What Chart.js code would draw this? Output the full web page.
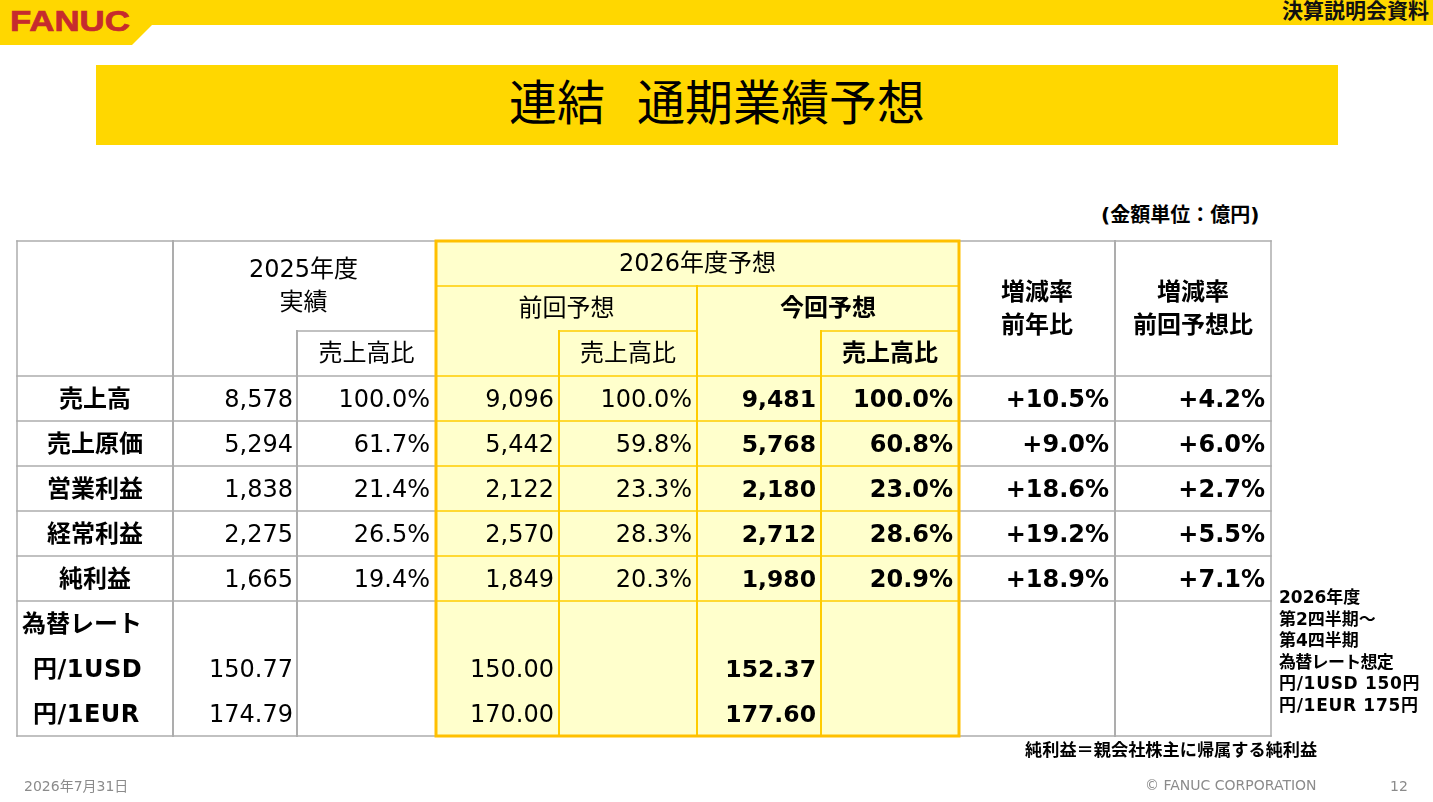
<!DOCTYPE html>
<html lang="ja"><head><meta charset="utf-8"><title>連結 通期業績予想</title>
<script src="https://cdn.jsdelivr.net/npm/chart.js@4/dist/chart.umd.min.js"></script>
<style>
html,body{margin:0;padding:0;background:#fff;width:1433px;height:802px;overflow:hidden}
body{position:relative;font-family:"DejaVu Sans","Noto Sans CJK JP",sans-serif;color:#000}
canvas{position:absolute;left:0;top:0}
.t{position:absolute;white-space:nowrap;line-height:1}
#band{position:absolute;left:0;top:0;width:1433px;height:45px;background:#FFD700;clip-path:polygon(0 0,1433px 0,1433px 25px,152px 25px,132px 45px,0 45px)}
#titleBar{position:absolute;left:96px;top:65px;width:1242px;height:80px;background:#FFD700}
#logo{left:10px;top:7px;font-family:"Liberation Sans",sans-serif;font-size:29px;font-weight:700;color:#C62B2E;-webkit-text-stroke:.7px #C62B2E;transform-origin:0 0;transform:scaleX(1.2)}
#note div{height:21.6px;line-height:21.6px;white-space:nowrap}
</style></head><body>
<div id="band"></div>
<div class="t" id="logo">FANUC</div>
<div class="t" style="right:4px;top:1px;font-size:21px;font-weight:700;color:#111">決算説明会資料</div>
<div id="titleBar"></div>
<div class="t" style="left:509px;top:79px;font-size:48px">連結</div>
<div class="t" style="left:637px;top:79px;font-size:48px">通期業績予想</div>
<div class="t" style="left:1101px;top:205px;font-size:20px;font-weight:700">(金額単位：億円)</div>
<canvas id="c" width="1433" height="802"></canvas>
<div id="note" style="position:absolute;left:1279px;top:587px;font-size:17px;font-weight:700">
<div>2026年度</div><div>第2四半期～</div><div>第4四半期</div><div style="letter-spacing:-.7px">為替レート想定</div><div style="letter-spacing:.7px">円/1USD 150円</div><div style="letter-spacing:.7px">円/1EUR 175円</div></div>
<div class="t" style="left:1025px;top:742px;font-size:17.2px;font-weight:700">純利益＝親会社株主に帰属する純利益</div>
<div class="t" style="left:24px;top:779px;font-size:14px;color:#8b8b8b">2026年7月31日</div>
<div class="t" style="left:1145px;top:778px;font-size:14px;color:#8b8b8b">© FANUC CORPORATION</div>
<div class="t" style="left:1390px;top:779px;font-size:14px;color:#8b8b8b">12</div>
<script>
// ---- data ----
const rowLabels   = ['売上高','売上原価','営業利益','経常利益','純利益'];
const fy2025      = [8578,5294,1838,2275,1665];
const fy2025Ratio = [100.0,61.7,21.4,26.5,19.4];
const prevFc      = [9096,5442,2122,2570,1849];
const prevFcRatio = [100.0,59.8,23.3,28.3,20.3];
const currFc      = [9481,5768,2180,2712,1980];
const currFcRatio = [100.0,60.8,23.0,28.6,20.9];
const yoyChange   = [10.5,9.0,18.6,19.2,18.9];
const vsPrevChange= [4.2,6.0,2.7,5.5,7.1];
const fxLabels    = ['円/1USD','円/1EUR'];
const fxFy2025    = [150.77,174.79];
const fxPrev      = [150.00,170.00];
const fxCurr      = [152.37,177.60];
const headerRows  = ['見出し1','見出し2','見出し3'];
const fxTitle     = '為替レート';
const categories  = [...headerRows,...rowLabels,fxTitle,...fxLabels];

// ---- layout (column boundaries on the linear x axis) ----
const colEdges = [0,156,280,419,542,680,804,942,1098,1254];
const GREY='#ADADAD', THIN='#FFCC00', THICK='#FFC000', FILL='#FFFFCC';
const FONT='"DejaVu Sans","Noto Sans CJK JP",sans-serif';

const fmtInt=v=>v.toLocaleString('en-US');
const fmtPct=v=>v.toFixed(1)+'%';
const fmtChg=v=>'+'+v.toFixed(1)+'%';
const fmtFx =v=>v.toFixed(2);

const tablePlugin={id:'table',afterDatasetsDraw(chart){
  const {ctx,scales:{x,y}}=chart;
  const X=i=>x.getPixelForValue(colEdges[i]);
  const Y=r=>y.getPixelForValue(r-0.5);
  const H=(r,a,b,c,w)=>{ctx.strokeStyle=c;ctx.lineWidth=w;ctx.beginPath();ctx.moveTo(X(a),Y(r));ctx.lineTo(X(b),Y(r));ctx.stroke();};
  const V=(i,a,b,c,w)=>{ctx.strokeStyle=c;ctx.lineWidth=w;ctx.beginPath();ctx.moveTo(X(i),Y(a));ctx.lineTo(X(i),Y(b));ctx.stroke();};
  ctx.save();ctx.lineCap='square';
  // grey grid
  [0,3,4,5,6,7,8,11].forEach(r=>{H(r,0,3,GREY,1.5);H(r,7,9,GREY,1.5);});
  H(2,2,3,GREY,1.5);
  V(0,0,11,GREY,1.5);V(1,0,11,GREY,2);V(2,2,11,GREY,2);V(8,0,11,GREY,2);V(9,0,11,GREY,1.5);
  // forecast block thin lines
  [1,3,4,5,6,7,8].forEach(r=>H(r,3,7,THIN,1.5));
  H(2,4,5,THIN,1.5);H(2,6,7,THIN,1.5);
  V(4,2,11,THIN,2);V(5,1,11,THIN,2);V(6,2,11,THIN,2);
  // forecast block outline
  ctx.strokeStyle=THICK;ctx.lineWidth=3;ctx.lineCap='butt';
  ctx.strokeRect(X(3),Y(0),X(7)-X(3),Y(11)-Y(0));

  ctx.fillStyle='#000';ctx.textBaseline='middle';
  const txt=(s,px,py,align,bold,size=24,sp='0px')=>{ctx.font=`${bold?'700':'400'} ${size}px ${FONT}`;ctx.letterSpacing=sp;ctx.textAlign=align;ctx.fillText(s,px,py+2);};
  const mid=r=>y.getPixelForValue(r);
  const cx=(a,b)=>(X(a)+X(b))/2;
  const NUMB=23.5;
  // headers
  txt('2025年度',cx(1,3)-1,Y(0)+28,'center');
  txt('実績',cx(1,3)-1,Y(0)+61,'center');
  txt('売上高比',cx(2,3),mid(2)-1,'center');
  txt('2026年度予想',cx(3,7),mid(0)-1,'center');
  txt('前回予想',cx(3,5),mid(1)-1,'center');
  txt('今回予想',cx(5,7),mid(1)-1,'center',true);
  txt('売上高比',cx(4,5),mid(2)-1,'center');
  txt('売上高比',cx(6,7),mid(2)-1,'center',true);
  txt('増減率',cx(7,8),Y(0)+51,'center',true);
  txt('前年比',cx(7,8),Y(0)+84,'center',true);
  txt('増減率',cx(8,9),Y(0)+51,'center',true);
  txt('前回予想比',cx(8,9),Y(0)+84,'center',true);
  // body
  const R=(i,pad=5)=>X(i)-pad;
  rowLabels.forEach((lab,k)=>{
    const yy=mid(categories.indexOf(lab));
    txt(lab,cx(0,1),yy,'center',true);
    txt(fmtInt(fy2025[k]),R(2,4),yy,'right');
    txt(fmtPct(fy2025Ratio[k]),R(3,6),yy,'right');
    txt(fmtInt(prevFc[k]),R(4),yy,'right');
    txt(fmtPct(prevFcRatio[k]),R(5),yy,'right');
    txt(fmtInt(currFc[k]),R(6),yy,'right',true,NUMB);
    txt(fmtPct(currFcRatio[k]),R(7,6),yy,'right',true);
    txt(fmtChg(yoyChange[k]),R(8,6),yy,'right',true);
    txt(fmtChg(vsPrevChange[k]),R(9,6),yy,'right',true);
  });
  txt(fxTitle,X(0)+5,mid(categories.indexOf(fxTitle)),'left',true);
  fxLabels.forEach((lab,k)=>{
    const yy=mid(categories.indexOf(lab));
    txt(lab,X(0)+16,yy,'left',true,24,'0.5px');
    txt(fmtFx(fxFy2025[k]),R(2,4),yy,'right');
    txt(fmtFx(fxPrev[k]),R(4),yy,'right');
    txt(fmtFx(fxCurr[k]),R(6),yy,'right',true,NUMB);
  });
  ctx.restore();
}};

new Chart(document.getElementById('c'),{
  type:'bar',
  data:{labels:categories,datasets:[{
    label:'2026年度予想',
    data:categories.map(()=>[colEdges[3],colEdges[7]]),
    backgroundColor:FILL,barPercentage:1,categoryPercentage:1,borderWidth:0
  }]},
  options:{
    indexAxis:'y',responsive:false,animation:false,devicePixelRatio:1,
    layout:{padding:{left:17,right:162,top:241,bottom:66}},
    plugins:{legend:{display:false},tooltip:{enabled:false},title:{display:false}},
    scales:{
      x:{type:'linear',min:colEdges[0],max:colEdges[colEdges.length-1],display:false},
      y:{type:'category',offset:true,display:false}
    }
  },
  plugins:[tablePlugin]
});
</script>
</body></html>
